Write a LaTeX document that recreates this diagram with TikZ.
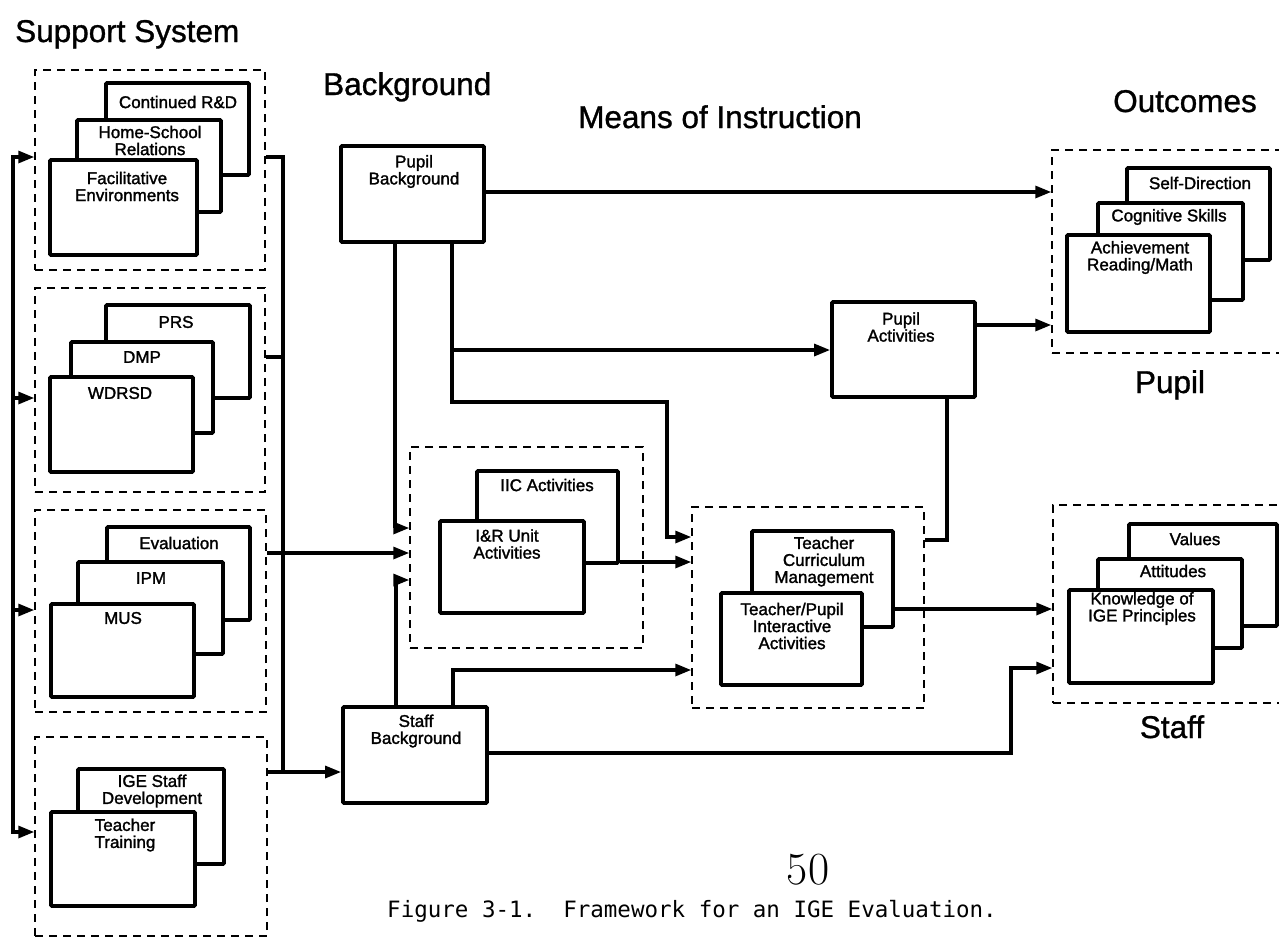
\documentclass[tikz,border=0pt]{standalone}
\usepackage{fontspec}
\newfontfamily\sans[FakeBold=1.6]{Liberation Sans}
\newfontfamily\headsans[FakeBold=1.0]{Liberation Sans}
\newfontfamily\capfont{DejaVu Sans Mono}
\usetikzlibrary{arrows.meta,fit}

\newcommand\lblfont{\sans\fontsize{17}{17}\selectfont}
\newcommand\headfont{\headsans\fontsize{31.5}{31.5}\selectfont}

\begin{document}
\begin{tikzpicture}[x=1pt,y=-1pt,
  card/.style={draw,line width=3.8pt,fill=white,inner sep=0pt,rounded corners=1pt},
  group/.style={draw,line width=1.5pt,dash pattern=on 8pt off 6pt,inner sep=0pt},
  wire/.style={line width=3.2pt,line join=miter},
  arr/.style={wire,-{Triangle[length=16pt,width=12pt]}},
  lbl/.style={font=\lblfont,align=center,inner sep=0pt},
  head/.style={font=\headfont,anchor=base west,inner sep=0pt}]
\useasboundingbox[fill=white] (0,0) rectangle (1279,938);

% ---- headings
\node[head] (h-sup) at (15,42) {Support System};
\node[head] (h-bg) at (323,95) {Background};
\node[head] (h-mi) at (578,128) {Means of Instruction};
\node[head] (h-out) at (1113,112) {Outcomes};
\node[head,anchor=base] (h-pupil) at (1170,393) {Pupil};
\node[head,anchor=base] (h-staff) at (1172,738) {Staff};

% ---- support system groups
\node[group,fit={(35,70)(265,270)}] (sup1) {};
\node[group,fit={(35,288)(265,492)}] (sup2) {};
\node[group,fit={(35,510)(266,712)}] (sup3) {};
\node[group,fit={(35,737)(267,936)}] (sup4) {};

\node[card,fit={(106,83)(249,175)}] (rd) {};
\node[lbl] (rd-t) at (178,102) {Continued R\&D};
\node[card,fit={(77,120)(221,212)}] (hs) {};
\node[lbl] (hs-t) at (150,140.5) {Home-School\\Relations};
\node[card,fit={(50,160)(197,255)}] (fe) {};
\node[lbl] (fe-t) at (127,186.5) {Facilitative\\Environments};

\node[card,fit={(106,305)(250,398)}] (prs) {};
\node[lbl] (prs-t) at (176,322) {PRS};
\node[card,fit={(71,342)(213,433)}] (dmp) {};
\node[lbl] (dmp-t) at (142,357) {DMP};
\node[card,fit={(50,377)(193,472)}] (wd) {};
\node[lbl] (wd-t) at (120,393) {WDRSD};

\node[card,fit={(107,527)(250,620)}] (ev) {};
\node[lbl] (ev-t) at (179,543) {Evaluation};
\node[card,fit={(78,562)(223,654)}] (ipm) {};
\node[lbl] (ipm-t) at (151,578) {IPM};
\node[card,fit={(51,604)(194,697)}] (mus) {};
\node[lbl] (mus-t) at (123,618) {MUS};

\node[card,fit={(78,769)(224,864)}] (isd) {};
\node[lbl] (isd-t) at (152,791) {IGE Staff\\Development};
\node[card,fit={(51,812)(195,906)}] (tt) {};
\node[lbl] (tt-t) at (125,835) {Teacher\\Training};

% ---- background
\node[card,fit={(341,146)(484,242)}] (pb) {};
\node[lbl] (pb-t) at (414,171.5) {Pupil\\Background};
\node[card,fit={(343,707)(487,803)}] (sb) {};
\node[lbl] (sb-t) at (416,731) {Staff\\Background};

% ---- means of instruction
\node[card,fit={(832,302)(975,397)}] (pa) {};
\node[lbl] (pa-t) at (901,327) {Pupil\\Activities};

\node[group,fit={(410,447)(643,648)}] (iicg) {};
\node[card,fit={(477,471)(618,563)}] (iic) {};
\node[lbl] (iic-t) at (547,485) {IIC Activities};
\node[card,fit={(440,521)(584,613)}] (iru) {};
\node[lbl] (iru-t) at (507,544) {I\&R Unit\\Activities};

\node[group,fit={(692,507)(924,708)}] (tg) {};
\node[card,fit={(752,531)(893,627)}] (tcm) {};
\node[lbl] (tcm-t) at (824,561.5) {Teacher\\Curriculum\\Management};
\node[card,fit={(721,593)(862,685)}] (tpi) {};
\node[lbl] (tpi-t) at (792,626) {Teacher/Pupil\\Interactive\\Activities};

% ---- outcomes
\node[group,fit={(1052,150)(1290,353)}] (op) {};
\node[card,fit={(1127,168)(1270,260)}] (sd) {};
\node[lbl] (sd-t) at (1200,183) {Self-Direction};
\node[card,fit={(1098,203)(1243,300)}] (cs) {};
\node[lbl] (cs-t) at (1169,217) {Cognitive Skills};
\node[card,fit={(1067,235)(1210,332)}] (ach) {};
\node[lbl] (ach-t) at (1140,257.5) {Achievement\\Reading/Math};

\node[group,fit={(1053,505)(1290,703)}] (os) {};
\node[card,fit={(1129,524)(1277,626)}] (val) {};
\node[lbl] (val-t) at (1195,539) {Values};
\node[card,fit={(1098,559)(1242,648)}] (att) {};
\node[lbl] (att-t) at (1173,571) {Attitudes};
\node[card,fit={(1069,590)(1213,683)}] (kn) {};
\node[lbl] (kn-t) at (1142,608.5) {Knowledge of\\IGE Principles};

% ---- feedback bus on the left
\coordinate (lb-top) at (13,157);
\coordinate (lb-2) at (13,398);
\coordinate (lb-3) at (13,610);
\coordinate (lb-bot) at (13,832);
\draw[arr] (lb-bot) -- (lb-top) -- (sup1.west |- lb-top);
\draw[arr] (lb-top) -- (lb-bot) -- (sup4.west |- lb-bot);
\draw[arr] (lb-2) -- (sup2.west |- lb-2);
\draw[arr] (lb-3) -- (sup3.west |- lb-3);

% ---- collecting bus on the right of the support system
\coordinate (rb-1) at (283,157);
\coordinate (rb-2) at (283,357);
\coordinate (rb-3) at (283,553);
\coordinate (rb-4) at (283,772);
\draw[wire] (sup1.east |- rb-1) -- (rb-1) -- (rb-4) -- (sup4.east |- rb-4);
\draw[wire] (sup2.east |- rb-2) -- (rb-2);
\draw[wire] (sup3.east |- rb-3) -- (rb-3);
\draw[arr] (rb-3) -- (iicg.west |- rb-3);
\draw[arr] (rb-4) -- (sb.west |- rb-4);

% ---- pupil background links
\coordinate (pb-a) at (395,528);
\draw[arr] (pb.south -| pb-a) -- (pb-a) -- (iicg.west |- pb-a);
\coordinate (pb-b) at (452,402);
\coordinate (pb-c) at (667,402);
\coordinate (pb-d) at (667,537);
\draw[arr] (pb.south -| pb-b) -- (pb-b) -- (pb-c) -- (pb-d) -- (tg.west |- pb-d);
\coordinate (pb-e) at (452,350);
\draw[arr] (pb-e) -- (pa.west |- pb-e);
\coordinate (pb-f) at (484,192);
\draw[arr] (pb.east |- pb-f) -- (op.west |- pb-f);

% ---- pupil activities links
\coordinate (pa-o) at (975,325);
\draw[arr] (pa.east |- pa-o) -- (op.west |- pa-o);
\coordinate (pa-k) at (947,540);
\draw[wire] (pa.south -| pa-k) -- (pa-k) -- (tg.east |- pa-k);

% ---- instruction links
\coordinate (iic-o) at (618,562);
\draw[arr] (iic.east |- iic-o) -- (tg.west |- iic-o);
\coordinate (tcm-o) at (893,609);
\draw[arr] (tcm.east |- tcm-o) -- (os.west |- tcm-o);

% ---- staff background links
\coordinate (sb-a) at (396,580);
\draw[arr] (sb.north -| sb-a) -- (sb-a) -- (iicg.west |- sb-a);
\coordinate (sb-b) at (453,670);
\draw[arr] (sb.north -| sb-b) -- (sb-b) -- (tg.west |- sb-b);
\coordinate (sb-c) at (1011,753);
\coordinate (sb-d) at (1011,668);
\draw[arr] (sb.east |- sb-c) -- (sb-c) -- (sb-d) -- (os.west |- sb-d);

% ---- page number and caption
\node[inner sep=0pt] (pg) at (808,870) {\fontsize{46}{46}\selectfont 50};
\node[anchor=base,inner sep=0pt] (cap) at (692,917)
  {\capfont\fontsize{22.5}{22.5}\selectfont Figure 3-1.\ \ Framework for an IGE Evaluation.};
\end{tikzpicture}
\end{document}
